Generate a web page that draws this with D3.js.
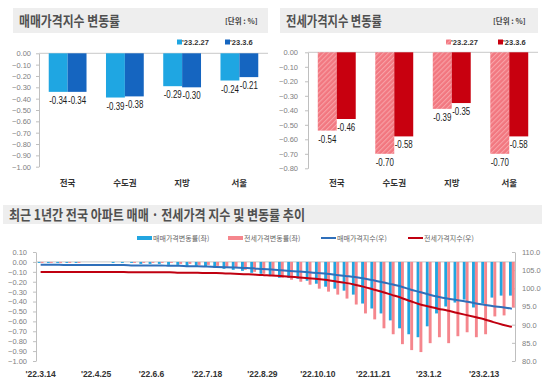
<!DOCTYPE html>
<html>
<head>
<meta charset="utf-8">
<script src="https://cdn.jsdelivr.net/npm/d3@7"></script>
<style>
body { margin: 0; background: #fff; }
svg { display: block; font-family: "Noto Sans CJK KR", "Noto Sans", sans-serif; }
</style>
</head>
<body>
<div id="main_content"></div>
<script>
var width = 550, height = 383;

var regions = ['전국', '수도권', '지방', '서울'];
var periodLabels = ["'23.2.27", "'23.3.6"];
var saleFeb27 = [-0.34, -0.39, -0.29, -0.24];
var saleMar6 = [-0.34, -0.38, -0.30, -0.21];
var jeonseFeb27 = [-0.54, -0.70, -0.39, -0.70];
var jeonseMar6 = [-0.46, -0.58, -0.35, -0.58];

var weeks = ["'22.3.14", "'22.3.21", "'22.3.28", "'22.4.4", "'22.4.11", "'22.4.18", "'22.4.25",
  "'22.5.2", "'22.5.9", "'22.5.16", "'22.5.23", "'22.5.30", "'22.6.6", "'22.6.13", "'22.6.20",
  "'22.6.27", "'22.7.4", "'22.7.11", "'22.7.18", "'22.7.25", "'22.8.1", "'22.8.8", "'22.8.15",
  "'22.8.22", "'22.8.29", "'22.9.5", "'22.9.12", "'22.9.19", "'22.9.26", "'22.10.3", "'22.10.10",
  "'22.10.17", "'22.10.24", "'22.10.31", "'22.11.7", "'22.11.14", "'22.11.21", "'22.11.28",
  "'22.12.5", "'22.12.12", "'22.12.19", "'22.12.26", "'23.1.2", "'23.1.9", "'23.1.16", "'23.1.23",
  "'23.1.30", "'23.2.6", "'23.2.13", "'23.2.20", "'23.2.27", "'23.3.6"];
var weekTicks = ["'22.3.14", "'22.4.25", "'22.6.6", "'22.7.18", "'22.8.29", "'22.10.10", "'22.11.21", "'23.1.2", "'23.2.13"];

var weeklySale = [-0.01, -0.01, -0.01, -0.01, -0.01, 0.00, 0.00, 0.00, -0.01, -0.01, -0.01, -0.02,
  -0.02, -0.02, -0.03, -0.03, -0.04, -0.04, -0.05, -0.06, -0.07, -0.08, -0.09, -0.11,
  -0.12, -0.14, -0.16, -0.16, -0.17, -0.19, -0.22, -0.25, -0.27, -0.29, -0.33, -0.42,
  -0.47, -0.52, -0.59, -0.67, -0.73, -0.76, -0.65, -0.52, -0.45, -0.41, -0.38, -0.46,
  -0.42, -0.36, -0.34, -0.34];
var weeklyJeonse = [-0.01, -0.01, -0.01, -0.01, -0.01, 0.00, 0.00, 0.00, 0.00, 0.00, -0.01, -0.01,
  -0.01, -0.01, -0.01, -0.02, -0.02, -0.03, -0.03, -0.04, -0.05, -0.06, -0.08, -0.10,
  -0.12, -0.14, -0.16, -0.18, -0.20, -0.23, -0.27, -0.30, -0.33, -0.37, -0.43, -0.52,
  -0.58, -0.67, -0.73, -0.83, -0.89, -0.91, -0.82, -0.76, -0.82, -0.75, -0.71, -0.76,
  -0.73, -0.55, -0.54, -0.46];
var saleIndex = [106.5, 106.5, 106.5, 106.4, 106.4, 106.4, 106.4, 106.4, 106.4, 106.4, 106.3, 106.3,
  106.3, 106.3, 106.2, 106.2, 106.1, 106.1, 106.0, 105.9, 105.8, 105.7, 105.6, 105.5,
  105.3, 105.2, 105.0, 104.8, 104.6, 104.4, 104.2, 104.0, 103.7, 103.4, 103.1, 102.7,
  102.2, 101.7, 101.1, 100.5, 99.7, 99.0, 98.3, 97.7, 97.2, 96.8, 96.4, 95.9,
  95.5, 95.1, 94.8, 94.4];
var jeonseIndex = [104.5, 104.5, 104.5, 104.5, 104.5, 104.5, 104.5, 104.5, 104.5, 104.5, 104.4, 104.4,
  104.4, 104.4, 104.4, 104.3, 104.3, 104.3, 104.2, 104.2, 104.1, 104.0, 103.9, 103.8,
  103.7, 103.5, 103.4, 103.2, 103.0, 102.8, 102.6, 102.3, 101.9, 101.5, 101.0, 100.4,
  99.7, 99.0, 98.2, 97.4, 96.5, 95.6, 95.0, 94.4, 93.9, 93.3, 92.7, 92.1,
  91.5, 90.7, 90.0, 89.4];

var numFont = "'Liberation Sans', Arial, sans-serif";

var svg = d3.select('#main_content').append('svg')
  .attr('width', width)
  .attr('height', height)
  .style('background', 'white');

var defs = svg.append('defs');
var hatch = defs.append('pattern')
  .attr('id', 'hatch')
  .attr('patternUnits', 'userSpaceOnUse')
  .attr('width', 3.5).attr('height', 3.5)
  .attr('patternTransform', 'rotate(45)');
hatch.append('rect').attr('width', 3.5).attr('height', 3.5).attr('fill', '#f27780');
hatch.append('rect').attr('width', 1.1).attr('height', 3.5).attr('fill', '#f8a2a7');

function titleBar(x, y, w, h, text, textW, unitX) {
  svg.append('rect').attr('x', x).attr('y', y).attr('width', w).attr('height', h).attr('fill', '#eeeeee');
  svg.append('text')
    .attr('x', x + 6).attr('y', y + h / 2 + 5)
    .attr('textLength', textW).attr('lengthAdjust', 'spacingAndGlyphs')
    .style('font-size', '14px').style('font-weight', 'bold').style('fill', '#505050')
    .text(text);
  if (unitX) {
    svg.append('text')
      .attr('x', unitX).attr('y', y + h / 2 + 3)
      .style('font-size', '7.5px').style('font-weight', 'bold').style('fill', '#444')
      .text('[단위 : %]');
  }
}

function styleAxis(g) {
  g.select('.domain').attr('stroke', '#bfbfbf');
  g.selectAll('.tick line').attr('stroke', '#bfbfbf');
  g.selectAll('.tick text').style('font-family', numFont).style('font-size', '7.5px').style('fill', '#808080');
}

function regionChart(o) {
  var y = d3.scaleLinear().domain([o.min, 0]).range([o.bottom, o.top]);
  var x = d3.scaleBand().domain(regions).range([o.left, o.right]).paddingInner(0.34).paddingOuter(0.17);
  var sub = d3.scaleBand().domain([0, 1]).range([0, x.bandwidth()]);

  var ay = svg.append('g').attr('transform', 'translate(' + o.left + ',0)')
    .call(d3.axisLeft(y).ticks(Math.round(-o.min * 10)).tickFormat(d3.format('.2f'))
      .tickSizeInner(3).tickSizeOuter(0).tickPadding(o.pad));
  styleAxis(ay);

  svg.append('line')
    .attr('x1', o.left).attr('x2', o.right)
    .attr('y1', y(0)).attr('y2', y(0))
    .attr('stroke', '#c8c8c8');

  [o.first, o.second].forEach(function(series, s) {
    svg.append('g').selectAll('rect')
      .data(series)
      .enter().append('rect')
      .attr('x', function(d, i) { return x(regions[i]) + sub(s); })
      .attr('y', y(0))
      .attr('width', sub.bandwidth())
      .attr('height', function(d) { return y(d) - y(0); })
      .attr('fill', o.colors[s]);

    // narrow labels: squeezed horizontally so neighbours sit side by side
    svg.append('g').selectAll('text')
      .data(series)
      .enter().append('text')
      .attr('transform', function(d, i) {
        return 'translate(' + (x(regions[i]) + sub(s) + sub.bandwidth() / 2) + ',' + (y(d) + 12) + ') scale(0.72,1)';
      })
      .attr('text-anchor', 'middle')
      .style('font-family', numFont).style('font-size', '11px').style('fill', '#1a1a1a')
      .text(function(d) { return d.toFixed(2); });
  });

  svg.append('g').selectAll('text')
    .data(regions)
    .enter().append('text')
    .attr('x', function(d) { return x(d) + x.bandwidth() / 2; })
    .attr('y', 186)
    .attr('text-anchor', 'middle')
    .style('font-size', '8.5px').style('font-weight', 'bold').style('fill', '#333')
    .text(function(d) { return d; });

  periodLabels.forEach(function(p, i) {
    svg.append('rect').attr('x', o.legendX[i]).attr('y', 39.5).attr('width', 5).attr('height', 5).attr('fill', o.colors[i]);
    svg.append('text')
      .attr('x', o.legendX[i] + 5).attr('y', 45)
      .style('font-family', numFont).style('font-size', '7.5px').style('font-weight', 'bold').style('fill', '#333')
      .text(p);
  });
}

titleBar(13, 8, 255, 25, '매매가격지수 변동률', 101, 225);
titleBar(280, 8, 258, 25, '전세가격지수 변동률', 96, 493);

regionChart({
  left: 39, right: 268, top: 53.3, bottom: 166.7, min: -1, pad: 5,
  first: saleFeb27, second: saleMar6,
  colors: ['#1fa6e2', '#1565c0'],
  legendX: [177, 225]
});

regionChart({
  left: 308, right: 538, top: 52.3, bottom: 168.3, min: -0.8, pad: 7,
  first: jeonseFeb27, second: jeonseMar6,
  colors: ['url(#hatch)', '#c8000f'],
  legendX: [446, 498]
});

// bottom chart: weekly change (left) and index (right)
titleBar(3, 205, 539, 19, '최근 1년간 전국 아파트 매매 · 전세가격 지수 및 변동률 추이', 296, null);

var bLeft = 36, bRight = 515;
var xB = d3.scaleBand().domain(weeks).range([bLeft, 516.5]);
var subB = d3.scaleBand().domain([0, 1]).range([0, xB.bandwidth()]).paddingOuter(0.6);
var yB = d3.scaleLinear().domain([-1, 0.1]).range([361, 252]);
var yI = d3.scaleLinear().domain([80, 110]).range([361, 252]);

var axL = svg.append('g').attr('transform', 'translate(' + bLeft + ',0)')
  .call(d3.axisLeft(yB).ticks(11).tickFormat(d3.format('.2f')).tickSizeInner(3).tickSizeOuter(0).tickPadding(6));
styleAxis(axL);

var axR = svg.append('g').attr('transform', 'translate(' + bRight + ',0)')
  .call(d3.axisRight(yI).ticks(6).tickFormat(d3.format('.1f')).tickSizeInner(-3).tickSizeOuter(0).tickPadding(7));
styleAxis(axR);

var axX = svg.append('g').attr('transform', 'translate(0,374)')
  .call(d3.axisBottom(xB).tickValues(weekTicks).tickSize(0).tickPadding(0));
axX.select('.domain').remove();
axX.selectAll('.tick text')
  .style('font-family', numFont).style('font-size', '8.5px').style('font-weight', 'bold').style('fill', '#333')
  .attr('dy', '0.35em');

svg.append('line')
  .attr('x1', bLeft).attr('x2', bRight)
  .attr('y1', yB(0)).attr('y2', yB(0))
  .attr('stroke', '#c8c8c8');

[weeklySale, weeklyJeonse].forEach(function(series, s) {
  svg.append('g').selectAll('rect')
    .data(series)
    .enter().append('rect')
    .attr('x', function(d, i) { return xB(weeks[i]) + subB(s); })
    .attr('y', yB(0))
    .attr('width', subB.bandwidth())
    .attr('height', function(d) { return yB(d) - yB(0); })
    .attr('fill', s === 0 ? '#22a5e0' : '#f5868d');
});

var line = d3.line()
  .x(function(d, i) { return xB(weeks[i]) + xB.bandwidth() / 2; })
  .y(function(d) { return yI(d); })
  .curve(d3.curveMonotoneX);

svg.append('path').datum(saleIndex)
  .attr('d', line).attr('fill', 'none').attr('stroke', '#2f6fba').attr('stroke-width', 2);
svg.append('path').datum(jeonseIndex)
  .attr('d', line).attr('fill', 'none').attr('stroke', '#c00010').attr('stroke-width', 2);

var legendItems = [
  {label: '매매가격변동률(좌)', x: 137, color: '#22a5e0', bar: true},
  {label: '전세가격변동률(좌)', x: 228, color: '#f5868d', bar: true},
  {label: '매매가격지수(우)', x: 321, color: '#2f6fba', bar: false},
  {label: '전세가격지수(우)', x: 408, color: '#c00010', bar: false}
];
legendItems.forEach(function(d) {
  svg.append('rect')
    .attr('x', d.x).attr('y', d.bar ? 236 : 237)
    .attr('width', 15).attr('height', d.bar ? 4 : 2)
    .attr('fill', d.color);
  svg.append('text')
    .attr('x', d.x + 16).attr('y', 240.5)
    .style('font-size', '7px').style('fill', '#666')
    .text(d.label);
});
</script>
</body>
</html>
